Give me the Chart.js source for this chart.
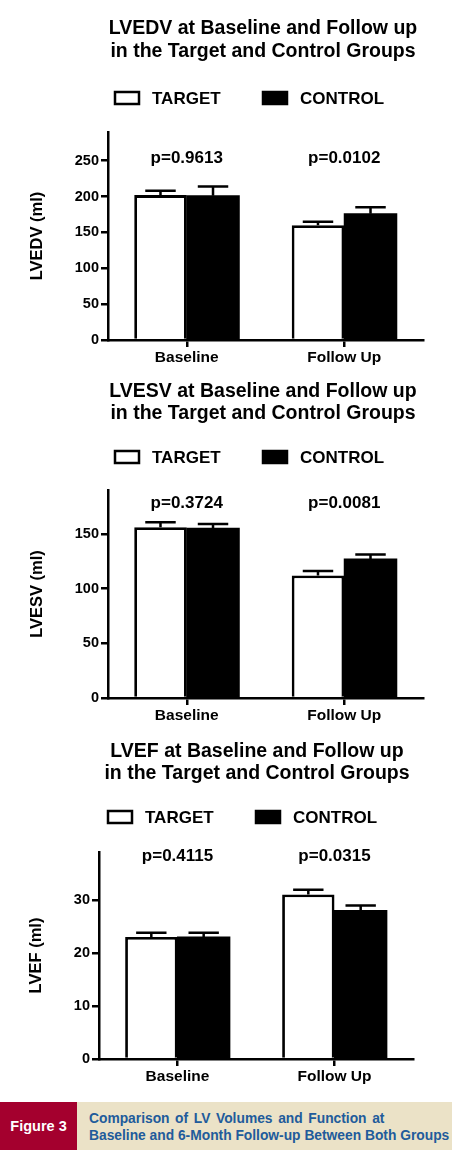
<!DOCTYPE html>
<html>
<head>
<meta charset="utf-8">
<script src="https://cdn.jsdelivr.net/npm/chart.js@4.4.1/dist/chart.umd.min.js"></script>
<style>
html, body { margin: 0; padding: 0; background: #fff; width: 452px; height: 1154px; overflow: hidden; }
canvas { position: absolute; left: 0; }
#cap { position: absolute; top: 1102px; left: 0; width: 452px; height: 48px; background: #ebe2c7;
  font-family: 'Liberation Sans', Arial, sans-serif; font-weight: bold; }
#fig { position: absolute; left: 0; top: 0; width: 77px; height: 48px; background: #a4002e; color: #fff;
  font-size: 14.5px; line-height: 48px; text-align: center; }
#captxt { position: absolute; left: 89px; top: 8px; color: #215b9b; font-size: 13.8px; line-height: 17px; white-space: nowrap; }
#l1 { word-spacing: 1.8px; }
</style>
</head>
<body>
<canvas id="lvedv" width="452" height="370" style="top:0px"></canvas>
<canvas id="lvesv" width="452" height="358" style="top:370px"></canvas>
<canvas id="lvef" width="452" height="359" style="top:730px"></canvas>
<div id="cap"><div id="fig">Figure 3</div><div id="captxt"><span id="l1">Comparison of LV Volumes and Function at</span><br>Baseline and 6-Month Follow-up Between Both Groups</div></div>
<script>
const groups = ['Baseline', 'Follow Up'];
const seriesNames = ['TARGET', 'CONTROL'];

// LVEDV
const lvedvTarget = [202, 160];
const lvedvControl = [201, 176];
const lvedvTargetErr = [6, 5];
const lvedvControlErr = [13, 9];
const lvedvP = ['p=0.9613', 'p=0.0102'];
const lvedvTicks = [0, 50, 100, 150, 200, 250];

// LVESV
const lvesvTarget = [156, 112];
const lvesvControl = [155, 127];
const lvesvTargetErr = [4.5, 4];
const lvesvControlErr = [4, 4];
const lvesvP = ['p=0.3724', 'p=0.0081'];
const lvesvTicks = [0, 50, 100, 150];

// LVEF
const lvefTarget = [23, 31];
const lvefControl = [23, 28];
const lvefTargetErr = [0.8, 0.9];
const lvefControlErr = [0.8, 0.9];
const lvefP = ['p=0.4115', 'p=0.0315'];
const lvefTicks = [0, 10, 20, 30];

const fontFamily = "'Liberation Sans', Arial, sans-serif";

// mean + SEM whiskers on top of each bar
const errorBars = {
    id: 'errorBars',
    afterDatasetsDraw(chart) {
        const ctx = chart.ctx;
        const y = chart.scales.y;
        chart.data.datasets.forEach((ds, i) => {
            chart.getDatasetMeta(i).data.forEach((bar, j) => {
                const top = y.getPixelForValue(ds.data[j] + ds.errors[j]);
                const half = bar.width * 0.29;
                ctx.save();
                ctx.strokeStyle = '#000';
                ctx.lineWidth = 2.5;
                ctx.beginPath();
                ctx.moveTo(bar.x, bar.y);
                ctx.lineTo(bar.x, top);
                ctx.moveTo(bar.x - half, top);
                ctx.lineTo(bar.x + half, top);
                ctx.stroke();
                ctx.restore();
            });
        });
    }
};

// heading, legend and p-values
const figLabels = {
    id: 'figLabels',
    afterDraw(chart, args, opts) {
        const ctx = chart.ctx;
        ctx.save();
        ctx.fillStyle = '#000';
        ctx.textAlign = 'center';
        ctx.textBaseline = 'middle';
        ctx.font = 'bold 19.5px ' + fontFamily;
        opts.title.forEach((line, k) => ctx.fillText(line, opts.titleX, opts.titleY[k]));

        ctx.font = 'bold 17px ' + fontFamily;
        ctx.textAlign = 'left';
        chart.data.datasets.forEach((ds, i) => {
            const x = opts.legendX + i * 148;
            ctx.fillStyle = ds.backgroundColor;
            ctx.fillRect(x, opts.legendY - 6, 24, 12);
            ctx.lineWidth = 2.5;
            ctx.strokeStyle = '#000';
            ctx.strokeRect(x, opts.legendY - 6, 24, 12);
            ctx.fillStyle = '#000';
            ctx.fillText(ds.label, x + 37, opts.legendY + 1);
        });

        ctx.textAlign = 'center';
        const xs = chart.scales.x, ys = chart.scales.y;
        opts.pValues.forEach((p, j) => ctx.fillText(p, xs.getPixelForValue(j), ys.getPixelForValue(opts.pAt)));
        ctx.restore();
    }
};

function makeChart(id, target, control, tErr, cErr, yTitle, yMax, ticks, pValues, box) {
    const axisGrid = { drawOnChartArea: false, offset: false, tickLength: 7, color: '#000', lineWidth: 2.5 };
    const axisBorder = { color: '#000', width: 2.5 };
    return new Chart(document.getElementById(id), {
        type: 'bar',
        data: {
            labels: groups,
            datasets: [
                { label: seriesNames[0], data: target, errors: tErr, backgroundColor: '#fff', borderColor: '#000', borderWidth: 2.8 },
                { label: seriesNames[1], data: control, errors: cErr, backgroundColor: '#000', borderColor: '#000', borderWidth: 0, inflateAmount: 0.5 }
            ]
        },
        options: {
            responsive: false,
            animation: false,
            categoryPercentage: 0.667,
            barPercentage: 1,
            layout: { padding: { top: box.top, right: box.right, bottom: 0, left: box.left } },
            plugins: {
                legend: { display: false },
                tooltip: { enabled: false },
                figLabels: {
                    title: [yTitle.split(' ')[0] + ' at Baseline and Follow up', 'in the Target and Control Groups'],
                    titleX: box.titleX, titleY: box.titleY,
                    legendX: box.legendX, legendY: box.legendY,
                    pValues: pValues, pAt: box.pAt
                }
            },
            scales: {
                x: {
                    z: 1,
                    grid: axisGrid,
                    border: axisBorder,
                    ticks: { color: '#000', padding: 1, font: { family: fontFamily, size: 15.5, weight: 'bold' } },
                    afterFit: s => { s.height = 30; }
                },
                y: {
                    z: 1,
                    min: 0,
                    max: yMax,
                    afterBuildTicks: s => { s.ticks = ticks.map(v => ({ value: v })); },
                    grid: axisGrid,
                    border: axisBorder,
                    ticks: { color: '#000', padding: 2, font: { family: fontFamily, size: 14.5, weight: 'bold' } },
                    title: { display: true, text: yTitle, color: '#000', font: { family: fontFamily, size: 16.5, weight: 'bold' } },
                    afterFit: s => { s.width = box.yWidth; }
                }
            }
        },
        plugins: [errorBars, figLabels]
    });
}

makeChart('lvedv', lvedvTarget, lvedvControl, lvedvTargetErr, lvedvControlErr, 'LVEDV (ml)', 290, lvedvTicks, lvedvP,
    { top: 132, right: 29, left: 24, yWidth: 84, titleX: 263, titleY: [29, 52], legendX: 115, legendY: 98, pAt: 253 });

makeChart('lvesv', lvesvTarget, lvesvControl, lvesvTargetErr, lvesvControlErr, 'LVESV (ml)', 190, lvesvTicks, lvesvP,
    { top: 120, right: 29, left: 24, yWidth: 84, titleX: 263, titleY: [22, 44], legendX: 115, legendY: 87, pAt: 178 });

makeChart('lvef', lvefTarget, lvefControl, lvefTargetErr, lvefControlErr, 'LVEF (ml)', 39, lvefTicks, lvefP,
    { top: 122, right: 39, left: 23, yWidth: 76, titleX: 257, titleY: [22, 44], legendX: 108, legendY: 87, pAt: 38.2 });
</script>
</body>
</html>
